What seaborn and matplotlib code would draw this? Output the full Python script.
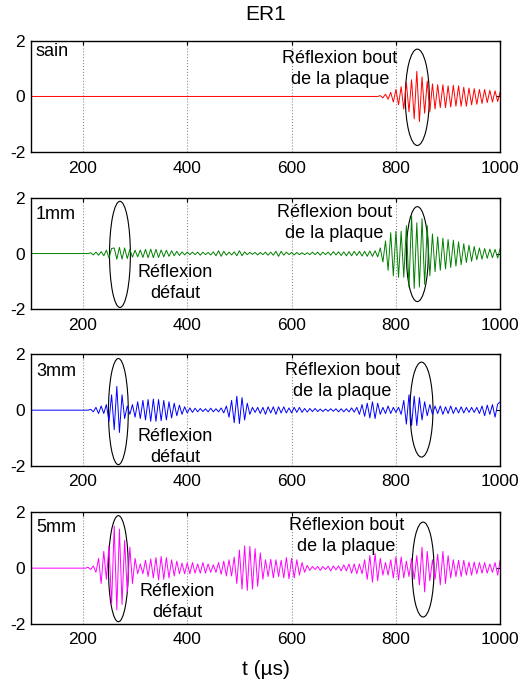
import numpy as np
import pandas as pd
import seaborn as sns
import matplotlib.pyplot as plt
from matplotlib.patches import Ellipse

# signaux : un point toutes les 5 us, a partir de t_debut
dt = 5
t_debut = [765, 210, 210, 205]

sig_sain = [0.0, 0.03, -0.05, 0.08, -0.1, 0.15, -0.2, 0.25, -0.3, 0.35,
            -0.45, 0.5, -0.55, 0.6, -0.8, 0.9, -0.9, 0.7, -0.6, 0.55,
            -0.55, 0.45, -0.45, 0.42, -0.4, 0.42, -0.4, 0.38, -0.38, 0.4,
            -0.35, 0.38, -0.35, 0.33, -0.35, 0.3, -0.3, 0.28, -0.28, 0.25,
            -0.25, 0.25, -0.22, 0.22, -0.2, 0.2, -0.18, 0.18]

sig_1mm = [0.0, 0.03, -0.05, 0.05, -0.06, 0.07, -0.08, 0.12, -0.16, 0.18,
           0.2, -0.2, 0.22, -0.2, 0.2, -0.18, 0.15, -0.13, 0.12, -0.12,
           0.13, -0.14, 0.15, -0.15, 0.16, -0.15, 0.15, -0.14, 0.13, -0.12,
           0.12, -0.1, 0.1, -0.08, 0.08, -0.07, 0.06, -0.05, 0.05, -0.04,
           0.05, -0.04, 0.05, -0.06, 0.05, -0.04, 0.04, -0.05, 0.06, -0.08,
           0.1, -0.1, 0.08, -0.06, 0.05, -0.05, 0.06, -0.08, 0.1, -0.08,
           0.06, -0.04, 0.04, -0.03, 0.04, -0.05, 0.04, -0.04, 0.05, -0.06,
           0.05, -0.06, 0.08, -0.1, 0.08, -0.06, 0.05, -0.04, 0.04, -0.05,
           0.04, -0.04, 0.03, -0.04, 0.03, -0.04, 0.05, -0.04, 0.05, -0.06,
           0.05, -0.04, 0.05, -0.06, 0.07, -0.05, 0.06, -0.07, 0.06, -0.08,
           0.07, -0.08, 0.08, -0.07, 0.08, -0.09, 0.08, -0.1, 0.09, -0.1,
           0.1, -0.12, 0.2, -0.3, 0.45, -0.6, 0.75, -0.8, 0.8, -0.85,
           0.8, -0.85, 1.0, -1.2, 1.35, -1.25, 1.1, -1.2, 1.25, -1.1,
           1.0, -0.8, 0.7, -0.65, 0.6, -0.6, 0.55, -0.55, 0.5, -0.5,
           0.48, -0.45, 0.42, -0.4, 0.35, -0.32, 0.3, -0.28, 0.25, -0.22,
           0.2, -0.2, 0.18, -0.17, 0.16, -0.15, 0.15, -0.16, 0.2]

sig_3mm = [0.0, 0.03, -0.06, 0.1, -0.12, 0.15, -0.12, 0.2, -0.4, 0.55,
           -0.7, 0.85, -0.8, 0.55, -0.3, 0.15, -0.15, 0.2, -0.25, 0.3,
           -0.3, 0.35, -0.35, 0.38, -0.4, 0.4, -0.4, 0.38, -0.38, 0.35,
           -0.35, 0.3, -0.28, 0.25, -0.2, 0.18, -0.15, 0.12, -0.1, 0.08,
           -0.08, 0.07, -0.06, 0.06, -0.05, 0.05, -0.06, 0.07, -0.06, 0.05,
           -0.06, 0.08, -0.1, 0.15, -0.25, 0.35, -0.45, 0.5, -0.48, 0.45,
           -0.35, 0.25, -0.15, 0.1, -0.08, 0.1, -0.12, 0.1, -0.15, 0.12,
           -0.1, 0.12, -0.15, 0.12, -0.1, 0.12, -0.1, 0.08, -0.1, 0.1,
           -0.08, 0.1, -0.08, 0.06, -0.07, 0.06, -0.05, 0.06, -0.05, 0.04,
           -0.05, 0.04, -0.04, 0.05, -0.04, 0.05, -0.06, 0.05, -0.06, 0.05,
           -0.06, 0.08, -0.07, 0.1, -0.15, 0.2, -0.22, 0.25, -0.28, 0.3,
           -0.3, 0.25, -0.15, 0.1, -0.12, 0.15, -0.12, 0.1, -0.08, 0.1,
           -0.15, 0.35, -0.5, 0.55, -0.55, 0.5, -0.55, 0.45, -0.35, 0.3,
           -0.2, 0.2, -0.15, 0.15, -0.12, 0.15, -0.15, 0.12, -0.12, 0.15,
           -0.12, 0.1, -0.1, 0.12, -0.1, 0.1, -0.08, 0.1, -0.08, 0.1,
           -0.12, 0.15, -0.2, 0.18, -0.15, 0.2, -0.25, 0.22, 0.3]

sig_5mm = [0.0, 0.03, -0.05, 0.08, -0.15, 0.35, -0.55, 0.6, -0.4, 0.8,
           -1.3, 1.5, -1.5, 1.4, -1.3, 1.0, -0.85, 0.75, -0.55, 0.35,
           -0.2, 0.15, -0.2, 0.28, -0.3, 0.33, -0.35, 0.38, -0.42, 0.42,
           -0.4, 0.38, -0.35, 0.3, -0.28, 0.25, -0.2, 0.18, -0.2, 0.18,
           -0.2, 0.2, -0.18, 0.15, -0.18, 0.2, -0.18, 0.15, -0.15, 0.12,
           -0.15, 0.2, -0.22, 0.25, -0.28, 0.3, -0.28, 0.4, -0.55, 0.65,
           -0.75, 0.8, -0.8, 0.78, -0.75, 0.7, -0.65, 0.55, -0.4, 0.3,
           -0.3, 0.32, -0.35, 0.3, -0.3, 0.28, -0.35, 0.38, -0.38, 0.35,
           -0.35, 0.3, -0.25, 0.2, -0.15, 0.1, -0.08, 0.06, -0.05, 0.06,
           -0.08, 0.06, -0.05, 0.07, -0.1, 0.08, -0.06, 0.08, -0.1, 0.12,
           -0.1, 0.15, -0.18, 0.15, -0.2, 0.15, -0.2, 0.3, -0.4, 0.45,
           -0.5, 0.52, -0.45, 0.35, -0.25, 0.2, -0.25, 0.3, -0.35, 0.4,
           -0.42, 0.4, -0.35, 0.25, -0.3, 0.35, -0.4, 0.45, -0.6, 0.75,
           -0.85, 0.6, -0.45, 0.3, -0.4, 0.5, -0.6, 0.6, -0.55, 0.45,
           -0.35, 0.3, -0.3, 0.28, -0.3, 0.28, -0.25, 0.22, -0.25, 0.22,
           -0.2, 0.2, -0.18, 0.2, -0.18, 0.15, -0.15, 0.2, -0.25, 0.3]

signaux = [sig_sain, sig_1mm, sig_3mm, sig_5mm]
etiquettes = ['sain', '1mm', '3mm', '5mm']
couleurs = ['#ff0000', '#008000', '#0000ff', '#ff00ff']

# annotations (ellipses en coordonnees donnees : t, amplitude, largeur, hauteur)
ell_bout = [(841, -0.03, 46, 3.45), (841, -0.02, 42, 3.4),
            (849, 0.02, 44, 3.4), (852, -0.05, 42, 3.4)]
ell_defaut = [None, (271, -0.03, 40, 3.8), (268, -0.05, 38, 3.8),
              (268, -0.02, 38, 3.8)]
pos_bout = [(693, 0.98), (682, 1.09), (697, 1.05), (705, 1.14)]
pos_defaut = [None, (377, -1.07), (377, -1.32), (381, -1.2)]
pos_etiq_y = [0.90, 0.85, 0.85, 0.865]

sns.set_style("white")
plt.rcParams['font.family'] = ['Liberation Sans', 'DejaVu Sans']
plt.rcParams['axes.unicode_minus'] = False
plt.rcParams['text.color'] = 'black'
plt.rcParams['axes.labelcolor'] = 'black'
plt.rcParams['xtick.color'] = 'black'
plt.rcParams['ytick.color'] = 'black'

fig = plt.figure(figsize=(5.27, 6.86), dpi=100)
bas = [0.778, 0.549, 0.3207, 0.0904]

for i in range(4):
    ax = fig.add_axes([0.0583, bas[i], 0.891, 0.1628])
    t = [100] + list(t_debut[i] + dt * np.arange(len(signaux[i])))
    df = pd.DataFrame({'t': t, 'amp': [0.0] + signaux[i]})
    sns.lineplot(data=df, x='t', y='amp', ax=ax, color=couleurs[i],
                 lw=0.7, estimator=None, sort=False)

    ax.set_xlim(100, 1000)
    ax.set_ylim(-2, 2)
    ax.set_xticks([200, 400, 600, 800, 1000])
    ax.set_yticks([-2, 0, 2])
    ax.set_xlabel('')
    ax.set_ylabel('')
    ax.grid(axis='x', color='#8c8c8c', ls=':', lw=0.8)
    ax.tick_params(direction='in', top=True, right=True, length=3,
                   width=0.8, labelsize=12.5, pad=4)
    ax.tick_params(axis='x', pad=6)
    for s in ax.spines.values():
        s.set_color('black')
        s.set_linewidth(1.0)

    ax.text(0.011, pos_etiq_y[i], etiquettes[i], transform=ax.transAxes,
            ha='left', va='center', fontsize=13)

    tx, ty = pos_bout[i]
    ax.text(tx, ty, 'Réflexion bout\nde la plaque', ha='center', va='center',
            fontsize=13, linespacing=1.3)
    cx, cy, w, h = ell_bout[i]
    ax.add_patch(Ellipse((cx, cy), w, h, fill=False, ec='black', lw=0.8))

    if pos_defaut[i] is not None:
        tx, ty = pos_defaut[i]
        ax.text(tx, ty, 'Réflexion\ndéfaut', ha='center', va='center',
                fontsize=13, linespacing=1.3)
        cx, cy, w, h = ell_defaut[i]
        ax.add_patch(Ellipse((cx, cy), w, h, fill=False, ec='black', lw=0.8))

    if i == 0:
        ax.set_title('ER1', fontsize=15, y=1.23, va='center', pad=0)
    if i == 3:
        ax.set_xlabel('t (µs)', fontsize=15, va='center')
        ax.xaxis.set_label_coords(0.5, -0.41)

fig.savefig('out.png', dpi=100)
